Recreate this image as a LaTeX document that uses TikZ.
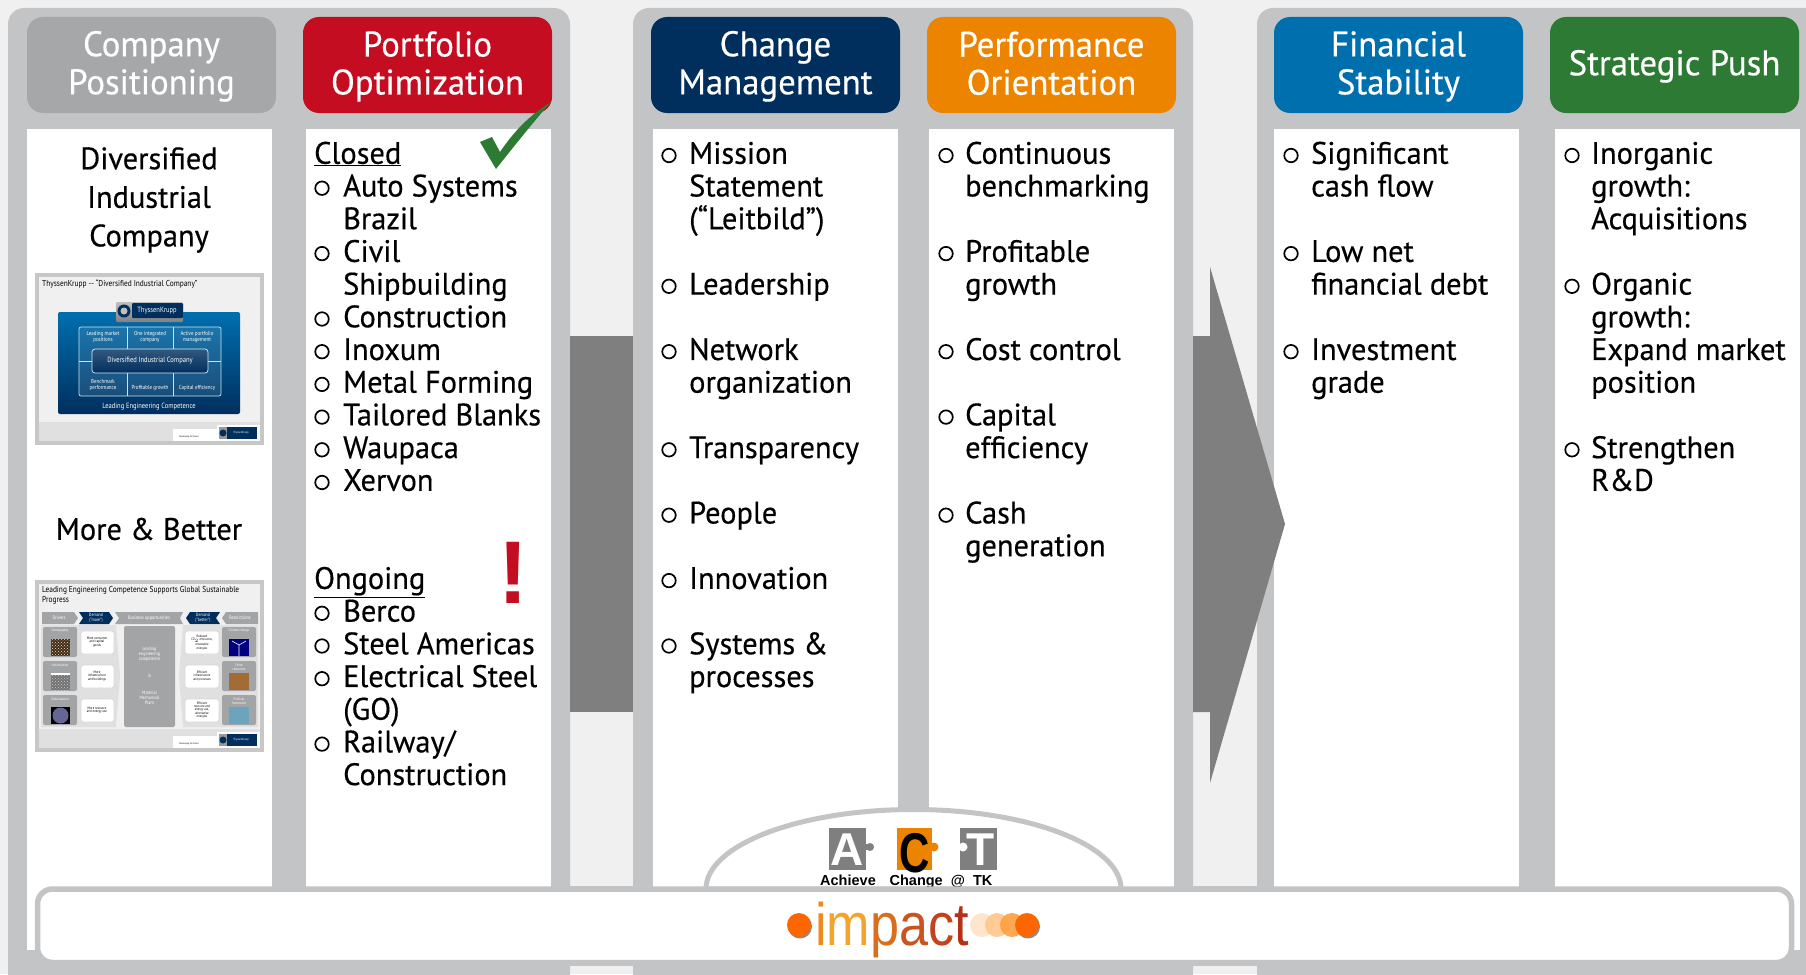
\documentclass[tikz,border=0pt]{standalone}
\usepackage{fontspec}
\setmainfont[FakeStretch=0.98,FakeBold=0.4]{PT Sans}
\newfontfamily\slidefont[FakeStretch=0.86]{PT Sans}
\newfontfamily\logofont[FakeStretch=0.87]{Liberation Sans}
\newfontfamily\markfont{Liberation Sans}
\newfontfamily\narrowmark[FakeStretch=0.75]{Liberation Sans}
\usetikzlibrary{calc}
\usetikzlibrary{patterns}

\definecolor{panelgray}{HTML}{C3C4C6}
\definecolor{pagegray}{HTML}{F0F0F0}
\definecolor{arrowgray}{HTML}{7F7F7F}
\definecolor{headgray}{HTML}{A6A7A9}
\definecolor{tkred}{HTML}{C40D20}
\definecolor{tknavy}{HTML}{002F5E}
\definecolor{tkorange}{HTML}{EC8400}
\definecolor{tkblue}{HTML}{006FAE}
\definecolor{tkgreen}{HTML}{2C7A33}
\definecolor{slidegray}{HTML}{A3A4A6}

\tikzset{
    headbox/.style={fill=#1, rounded corners=16pt, minimum width=249pt, minimum height=96pt,
        inner sep=0pt, text=white, align=center, font=\fontsize{35.5}{38}\selectfont},
    introtext/.style={inner sep=0pt, align=center, font=\fontsize{31}{38.6}\selectfont},
    itemtext/.style={anchor=north west, inner sep=0pt, align=left, font=\fontsize{31}{32.7}\selectfont},
    itemmark/.style={circle, draw=black, line width=1.7pt, minimum size=13.5pt, inner sep=0pt},
    slidetext/.style={inner sep=0pt, align=center, text=white, font=\slidefont\fontsize{#1}{#1}\selectfont},
    slidetext/.default=6,
    slidetitle/.style={anchor=west, inner sep=0pt, align=left, font=\slidefont\fontsize{8.6}{9.4}\selectfont},
    slidecell/.style={draw=white!80!tkblue, fill=white, fill opacity=0.1, line width=0.7pt},
    whitebox/.style={fill=white, draw=black!15, line width=0.7pt, rounded corners=2.5pt},
    graybox/.style={fill=slidegray, rounded corners=2pt},
    impactdot/.style={circle, fill=#1, minimum size=24pt, inner sep=0pt},
    lettertext/.style={inner sep=0pt, font=\markfont\bfseries\fontsize{#1}{#1}\selectfont},
}

\newcommand{\headstrut}{\rule[-6.6pt]{0pt}{34.6pt}}
% one list entry: name, bullet x, text x, line number, text
\newcommand{\listentry}[5]{
    \node[itemmark] (#1mark) at (#2, {155.5+32.7*#4}) {};
    \node[itemtext] (#1) at (#3, {140.7+32.7*#4}) {\strut #5};
}
% small logo of the slides
\newcommand{\slidefooter}[1]{
    \fill[black!12] (39,#1) rectangle (260,#1+19);
    \fill[white] (173,#1+7) rectangle (217,#1+19);
    \fill[white!85!black!5] (217,#1+3) rectangle (260,#1+19);
    \fill[tknavy] (219,#1+5) rectangle (257,#1+17);
    \fill[black!40] (219,#1+5) rectangle (227,#1+17);
    \fill[tknavy] (223,#1+11) circle (3.5);
}

\begin{document}
\begin{tikzpicture}[x=1pt, y=-1pt]
    \useasboundingbox (0,0) rectangle (1806,974);
    \fill[pagegray] (0,0) rectangle (1806,974);

    % panels
    \fill[panelgray, rounded corners=16pt] (8,8) rectangle (570,990);
    \fill[panelgray, rounded corners=16pt] (633,8) rectangle (1193,990);
    \fill[panelgray, rounded corners=16pt] (1257,8) rectangle (1830,990);
    \fill[panelgray] (30,886) rectangle (1806,966);

    % white columns
    \fill[white] (27,129) rectangle (272,950);
    \fill[white] (306,129) rectangle (551,892);
    \fill[white] (653,129) rectangle (898,892);
    \fill[white] (929,129) rectangle (1174,892);
    \fill[white] (1274,129) rectangle (1519,892);
    \fill[white] (1555,129) rectangle (1800,950);

    % the arrow
    \fill[arrowgray] (570,336) rectangle (633,712);
    \fill[arrowgray] (1193,336) -- (1210,336) -- (1210,267) -- (1285,524) -- (1210,783) -- (1210,712) -- (1193,712) -- cycle;

    % headers
    \node[headbox=headgray] (company) at (151.5,65) {\headstrut Company\\Positioning\headstrut};
    \node[headbox=tkred] (portfolio) at (427.5,65) {\headstrut Portfolio\\Optimization\headstrut};
    \node[headbox=tknavy] (change) at (775.5,65) {\headstrut Change\\Management\headstrut};
    \node[headbox=tkorange] (performance) at (1051.5,65) {\headstrut Performance\\Orientation\headstrut};
    \node[headbox=tkblue] (financial) at (1398.5,65) {\headstrut Financial\\Stability\headstrut};
    \node[headbox=tkgreen] (strategic) at (1674.5,65) {\headstrut Strategic Push};

    % first column
    \node[introtext] (diversified) at (149,200) {Diversified\\Industrial\\Company};
    \node[introtext] (morebetter) at (149,529) {More \& Better};

    % first slide
    \fill[black!22] (35,273) rectangle (264,445);
    \fill[pagegray] (39,277) rectangle (260,422);
    \slidefooter{422}
    \node[slidetitle] (slidea) at (42,284) {ThyssenKrupp -- “Diversified Industrial Company”};
    \shade[top color=tkblue, bottom color=tknavy, rounded corners=2pt] (58,312) rectangle (240,414);
    \draw[slidecell, rounded corners=2pt] (79,327) rectangle (221,396);
    \draw[slidecell, fill opacity=0] (127,327) -- (127,396);
    \draw[slidecell, fill opacity=0] (173,327) -- (173,396);
    \draw[slidecell, fill opacity=0] (79,361) -- (221,361);
    \shade[top color=black!25, bottom color=black!50, rounded corners=1pt] (116,302) rectangle (183,322);
    \fill[tknavy, rounded corners=1pt] (132,303) rectangle (183,318);
    \fill[tknavy] (124,311) circle (6.5);
    \fill[black!25] (124,311) circle (3.5);
    \node[slidetext=7.6] (tkloga) at (157,311) {ThyssenKrupp};
    \node[slidetext=5.8] (cella) at (103,337) {Leading market\\positions};
    \node[slidetext=5.8] (cellb) at (150,337) {One integrated\\company};
    \node[slidetext=5.8] (cellc) at (197,337) {Active portfolio\\management};
    \node[slidetext=5.8] (celld) at (103,385) {Benchmark\\performance};
    \node[slidetext=5.8] (celle) at (150,388) {Profitable growth};
    \node[slidetext=5.8] (cellf) at (197,388) {Capital efficiency};
    \shade[top color=tknavy!80!white, bottom color=tknavy, draw=white!85!tkblue, line width=0.7pt, rounded corners=3pt] (92,349) rectangle (208,373);
    \node[slidetext=7.6] (celldiv) at (150,361) {Diversified Industrial Company};
    \node[slidetext=7.6] (lec) at (149,407) {Leading Engineering Competence};
    \node[slidetext=3, text=white] (tkfoota) at (241,433) {ThyssenKrupp};
    \node[slidetext=2.4, text=black] (devfoota) at (189,437) {Developing the future};

    % second slide
    \fill[black!22] (35,580) rectangle (264,752);
    \fill[pagegray] (39,584) rectangle (260,729);
    \slidefooter{729}
    \node[slidetitle] (slideb) at (42,595.5) {Leading Engineering Competence Supports Global Sustainable\\Progress};
    \fill[slidegray] (42,612) -- (74,612) -- (78,618) -- (74,624) -- (42,624) -- cycle;
    \fill[tknavy] (79,612) -- (109,612) -- (113,618) -- (109,624) -- (79,624) -- (83,618) -- cycle;
    \fill[slidegray] (115,612) -- (183,612) -- (180,618) -- (183,624) -- (115,624) -- (119,618) -- cycle;
    \fill[tknavy] (190,612) -- (220,612) -- (216,618) -- (220,624) -- (190,624) -- (186,618) -- cycle;
    \fill[slidegray] (226,612) -- (258,612) -- (258,624) -- (226,624) -- (222,618) -- cycle;
    \node[slidetext=5] (drivers) at (59,618) {Drivers};
    \node[slidetext=4.6] (demandm) at (96,618) {Demand\\(“more”)};
    \node[slidetext=5] (business) at (149,618) {Business opportunities};
    \node[slidetext=4.6] (demandb) at (203,618) {Demand\\(“better”)};
    \node[slidetext=5] (restrict) at (240,618) {Restrictions};
    \fill[black!12] (41,625) -- (116,625) -- (120,676) -- (116,727) -- (41,727) -- cycle;
    \fill[black!12] (183,625) -- (258,625) -- (258,727) -- (183,727) -- (179,676) -- cycle;
    \fill[graybox] (124,626) rectangle (175,727);
    \node[slidetext=4.8] (leading) at (149.5,654) {Leading\\engineering\\competence};
    \node[slidetext=4.8] (inword) at (149.5,676) {in};
    \node[slidetext=4.8] (material) at (149.5,698) {Material\\Mechanical\\Plant};
    % left boxes
    \fill[graybox] (43,627) rectangle (77,657);
    \fill[graybox] (43,661) rectangle (77,691);
    \fill[graybox] (43,695) rectangle (77,725);
    \fill[black!65!brown] (51,639) rectangle (70,656);
    \fill[pattern=crosshatch dots, pattern color=white!75!brown] (51,639) rectangle (70,656);
    \fill[black!55] (51,673) rectangle (70,690);
    \fill[pattern=crosshatch dots, pattern color=white!60!gray] (51,675) rectangle (70,690);
    \fill[white] (51,673) rectangle (70,675);
    \fill[black] (51,707) rectangle (70,724);
    \fill[blue!30!black!60!white] (60.5,715.5) circle (8);
    \node[slidetext=3.6] (demography) at (60,631) {Demography};
    \node[slidetext=3.6] (urban) at (60,665) {Urbanisation};
    \node[slidetext=3.6] (global) at (60,699) {Globalisation};
    \draw[whitebox] (81,631) rectangle (114,654);
    \draw[whitebox] (81,665) rectangle (114,688);
    \draw[whitebox] (81,699) rectangle (114,722);
    \node[slidetext=3.6, text=black] (morecons) at (97,642) {More consumer\\and capital\\goods};
    \node[slidetext=3.6, text=black] (moreinf) at (97,676) {More\\infrastructure\\and buildings};
    \node[slidetext=3.6, text=black] (moreres) at (97,710) {More resource\\and energy use};
    % right boxes
    \fill[graybox] (222,627) rectangle (256,657);
    \fill[graybox] (222,661) rectangle (256,691);
    \fill[graybox] (222,695) rectangle (256,725);
    \fill[blue!50!black] (229,639) rectangle (249,656);
    \draw[white, line width=0.6pt] (239,656) -- (239,645) -- (232,641) (239,645) -- (246,641);
    \fill[brown!85!black] (229,673) rectangle (249,690);
    \fill[cyan!45!gray] (229,707) rectangle (249,724);
    \node[slidetext=3.6] (climate) at (239,631) {Climate change};
    \node[slidetext=3.6] (finite) at (239,667) {Finite\\resources};
    \node[slidetext=3.6] (political) at (239,701) {Political\\framework};
    \draw[whitebox] (185,631) rectangle (219,654);
    \draw[whitebox] (185,665) rectangle (219,688);
    \draw[whitebox] (185,699) rectangle (219,722);
    \node[slidetext=3.4, text=black] (reduced) at (202,642.5) {Reduced\\CO$_2$ emissions,\\renewable\\energies};
    \node[slidetext=3.4, text=black] (effinf) at (202,676) {Efficient\\infrastructure\\and processes};
    \node[slidetext=3.4, text=black] (effres) at (202,710) {Efficient\\resource and\\energy use,\\alternative\\energies};
    \node[slidetext=3, text=white] (tkfootb) at (241,740) {ThyssenKrupp};
    \node[slidetext=2.4, text=black] (devfootb) at (189,744) {Developing the future};

    % second column
    \node[itemtext] (closed) at (314,140.7) {\strut\underline{Closed}};
    \listentry{autosys}{322}{343}{1}{Auto Systems\\Brazil}
    \listentry{civil}{322}{343}{3}{Civil\\Shipbuilding}
    \listentry{construct}{322}{343}{5}{Construction}
    \listentry{inoxum}{322}{343}{6}{Inoxum}
    \listentry{metal}{322}{343}{7}{Metal Forming}
    \listentry{tailored}{322}{343}{8}{Tailored Blanks}
    \listentry{waupaca}{322}{343}{9}{Waupaca}
    \listentry{xervon}{322}{343}{10}{Xervon}
    \node[itemtext] (ongoing) at (314,{140.7+32.7*13}) {\strut\underline{Ongoing}};
    \listentry{berco}{322}{343}{14}{Berco}
    \listentry{steel}{322}{343}{15}{Steel Americas}
    \listentry{electrical}{322}{343}{16}{Electrical Steel\\(GO)}
    \listentry{railway}{322}{343}{18}{Railway/\\Construction}

    % check mark and exclamation mark
    \fill[tkgreen] (496,169) -- (480,142) -- (492,137) -- (500,152) .. controls (515,130) and (530,115) .. (551,102) .. controls (535,120) and (515,145) .. (496,169) -- cycle;
    \node[lettertext=89, text=tkred, anchor=base] (attention) at (513,603) {!};

    % third column
    \listentry{mission}{669}{689}{0}{Mission\\Statement\\(“Leitbild”)}
    \listentry{leadership}{669}{689}{4}{Leadership}
    \listentry{network}{669}{689}{6}{Network\\organization}
    \listentry{transparency}{669}{689}{9}{Transparency}
    \listentry{people}{669}{689}{11}{People}
    \listentry{innovation}{669}{689}{13}{Innovation}
    \listentry{systems}{669}{689}{15}{Systems \&\\processes}

    % fourth column
    \listentry{benchmark}{946}{965}{0}{Continuous\\benchmarking}
    \listentry{profitable}{946}{965}{3}{Profitable\\growth}
    \listentry{cost}{946}{965}{6}{Cost control}
    \listentry{capital}{946}{965}{8}{Capital\\efficiency}
    \listentry{cash}{946}{965}{11}{Cash\\generation}

    % fifth column
    \listentry{cashflow}{1291}{1311}{0}{Significant\\cash flow}
    \listentry{netdebt}{1291}{1311}{3}{Low net\\financial debt}
    \listentry{invest}{1291}{1311}{6}{Investment\\grade}

    % sixth column
    \listentry{inorganic}{1572}{1591}{0}{Inorganic\\growth:\\Acquisitions}
    \listentry{organic}{1572}{1591}{4}{Organic\\growth:\\Expand market\\position}
    \listentry{research}{1572}{1591}{9}{Strengthen\\R\&D}

    % act arc
    \draw[panelgray, fill=white, line width=5pt] (706,889) arc[start angle=180, end angle=360, x radius=207.5, y radius=79.5] -- cycle;

    % act puzzle pieces
    \fill[arrowgray] (829,828) rectangle (866,870);
    \fill[arrowgray] (870,847) circle (4);
    \fill[arrowgray] (865,844) rectangle (870,850);
    \node[lettertext=46, text=white] (puzzlea) at (847,850) {A};
    \fill[tkorange] (897,828) rectangle (932,870);
    \fill[tkorange] (934,847) circle (4.5);
    \node[inner sep=0pt, font=\narrowmark\bfseries\fontsize{56}{56}\selectfont] (puzzlec) at (915,853) {C};
    \fill[arrowgray] (960,828) rectangle (997,870);
    \fill[white] (963,847) circle (4.5);
    \node[lettertext=46, text=white] (puzzlet) at (981,850) {T};
    \node[lettertext=14.5, anchor=base] (achieve) at (848,885.5) {Achieve};
    \node[lettertext=14.5, anchor=base] (changetk) at (941,885.5) {Change\ \ @\ \ TK};

    % impact box
    \draw[panelgray, fill=white, line width=5.5pt, rounded corners=15pt] (37.5,889) rectangle (1791.5,962.5);

    % impact logo
    \fill[black!45] (800,926.5) circle (12);
    \node[impactdot={orange!80!red}] (dotleft) at (799,925) {};
    \node[anchor=base west, inner sep=0pt, font=\logofont\fontsize{60}{60}\selectfont] (impact) at (815,945) {\textcolor[HTML]{EE8A1E}{i}\textcolor[HTML]{F2A52E}{m}\textcolor[HTML]{D86E1E}{p}\textcolor[HTML]{C9541F}{a}\textcolor[HTML]{C2431D}{c}\textcolor[HTML]{B53016}{t}};
    \node[impactdot={orange!20!white}] (dota) at (982,925) {};
    \node[impactdot={orange!45!white}, opacity=0.9] (dotb) at (997,925) {};
    \node[impactdot={orange!75!white}, opacity=0.9] (dotc) at (1012,925) {};
    \fill[black!45] (1028,926.5) circle (12);
    \node[impactdot={orange!80!red}] (dotd) at (1027,925) {};
\end{tikzpicture}
\end{document}
